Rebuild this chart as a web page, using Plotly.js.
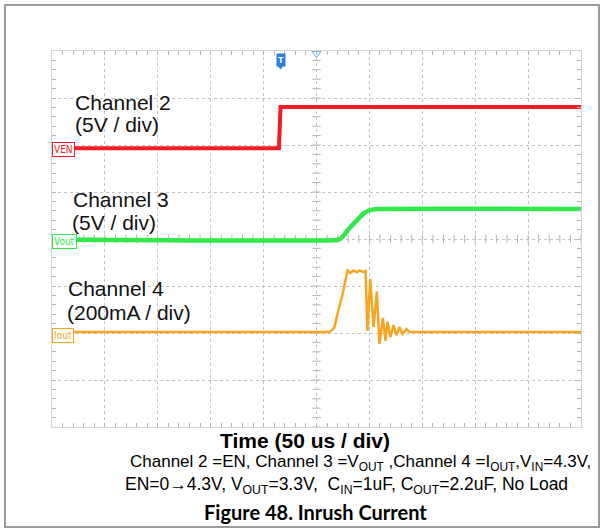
<!DOCTYPE html>
<html>
<head>
<meta charset="utf-8">
<script src="https://cdn.plot.ly/plotly-3.0.1.min.js"></script>
<style>
  html, body { margin: 0; padding: 0; background: #fff; }
  #chart { position: absolute; left: 0; top: 0; width: 603px; height: 532px; }
  #frame { position: absolute; left: 4px; top: 4px; width: 592px; height: 520px;
           border: 2px solid #9a9a9a; pointer-events: none; }
</style>
</head>
<body>
<div id="chart"></div>
<div id="frame"></div>
<script>
// ---- Data (time in microseconds, trigger at 0; 50 us/div) ----
// Channel 2: EN voltage (V), 5 V/div
const enTime = [-250, -35.5, -34, 250];
const enVolt = [0, 0, 4.4, 4.4];

// Channel 3: VOUT (V), 5 V/div
const voutTime = [-250, 19, 22, 26, 30, 34, 40, 45, 50, 54, 58, 250];
const voutVolt = [0.05, 0, 0.1, 0.5, 1.1, 1.6, 2.3, 2.85, 3.15, 3.25, 3.3, 3.3];

// Channel 4: IOUT (mA), 200 mA/div
const ioutTime = [-250, 12, 15, 17, 20, 24.6, 29.3, 32, 35, 38, 41, 44, 46.3, 47.3, 48.2,
                  50.8, 53.9, 57.0, 59.5, 62.7, 65.2, 67.1, 69.9, 72.8, 75.6, 78.4, 81.3, 85.1, 88, 250];
const ioutMA = [0, 0, 10, 21, 80, 160, 262, 252, 262, 254, 262, 255, 260, 150, 5,
                225, 22, 172, -51, 60, -37, 44, -21, 30, -13, 21, -8, 13, 0, 0];

// Channel labels
const chanNames = ["Channel 2", "Channel 3", "Channel 4"];
const chanScales = ["(5V / div)", "(5V / div)", "(200mA / div)"];
const markerNames = ["VEN", "Vout", "Iout"];
const chanColors = ["#ee1c24", "#2fe84a", "#f7a520"];

// Caption texts
const xTitle = "Time (50 us / div)";
const captionLine1 = "Channel 2 =EN, Channel 3 =V<sub>OUT</sub> ,Channel 4 =I<sub>OUT</sub>,V<sub>IN</sub>=4.3V,";
const captionLine2 = "EN=0\u21924.3V, V<sub>OUT</sub>=3.3V,  C<sub>IN</sub>=1uF, C<sub>OUT</sub>=2.2uF, No Load";
const figTitle = "Figure 48. Inrush Current";

// ---- Scope geometry ----
const XDIV = 50, NXDIV = 10, NYDIV = 8;
const xMin = -XDIV * NXDIV / 2, xMax = XDIV * NXDIV / 2;
// ground positions (in divisions from bottom) and scale per div
const gnd = [5.93, 3.98, 2.02];
const perDiv = [5, 5, 200];
function rng(i) { return [-gnd[i] * perDiv[i], (NYDIV - gnd[i]) * perDiv[i]]; }

// graticule centre-line ticks
const gx = [], gy = [];
for (let t = xMin; t <= xMax; t += XDIV / 5) { gx.push(t); }
for (let v = 0; v <= NYDIV + 1e-9; v += 0.2) { gy.push(v); }

const gridColor = "#c4c4c4";
const tickColor = "#b4b4b4";

const traces = [
  { x: gx, y: gx.map(() => NYDIV / 2), mode: "markers", xaxis: "x", yaxis: "y",
    marker: { symbol: "line-ns", size: 6, line: { color: tickColor, width: 1 } },
    hoverinfo: "skip", showlegend: false },
  { x: gy.map(() => 0), y: gy, mode: "markers", xaxis: "x", yaxis: "y",
    marker: { symbol: "line-ew", size: 6, line: { color: tickColor, width: 1 } },
    hoverinfo: "skip", showlegend: false },
  { x: [0], y: [NYDIV - 0.05], mode: "markers", xaxis: "x", yaxis: "y", cliponaxis: false,
    marker: { symbol: "triangle-down-open", size: 8, color: "#5aa8f0", line: { width: 1 } },
    hoverinfo: "skip", showlegend: false },
  { x: [-34], y: [7.69], mode: "markers", xaxis: "x", yaxis: "y", cliponaxis: false,
    marker: { symbol: "triangle-down", size: 8, color: "#2e7fd6" },
    hoverinfo: "skip", showlegend: false },
  { x: enTime, y: enVolt, mode: "lines", xaxis: "x", yaxis: "y2",
    line: { color: chanColors[0], width: 4 }, showlegend: false },
  { x: voutTime, y: voutVolt, mode: "lines", xaxis: "x", yaxis: "y3",
    line: { color: chanColors[1], width: 4.5, shape: "spline", smoothing: 0.6 }, showlegend: false },
  { x: ioutTime, y: ioutMA, mode: "lines", xaxis: "x", yaxis: "y4",
    line: { color: chanColors[2], width: 2.5 }, showlegend: false }
];

const baseFont = "Liberation Sans, Arial, sans-serif";
const annotations = [];
const labelPos = [
  { x1: -229.7, y1: 6.915, x2: -230.2, y2: 6.426 },
  { x1: -232.1, y1: 4.83, x2: -233.0, y2: 4.347 },
  { x1: -236.8, y1: 2.957, x2: -237.7, y2: 2.426 }
];
for (let i = 0; i < 3; i++) {
  annotations.push({ x: labelPos[i].x1, y: labelPos[i].y1, xref: "x", yref: "y", xanchor: "left", yanchor: "middle",
    text: chanNames[i], showarrow: false, font: { family: baseFont, size: 21, color: "#111" } });
  annotations.push({ x: labelPos[i].x2, y: labelPos[i].y2, xref: "x", yref: "y", xanchor: "left", yanchor: "middle",
    text: chanScales[i], showarrow: false, font: { family: baseFont, size: 21, color: "#111" } });
  annotations.push({ x: xMin, y: 0, xref: "x", yref: "y" + (i + 2), xanchor: "left", yanchor: "middle",
    yshift: i === 0 ? -1 : (i === 1 ? -2 : -3),
    text: markerNames[i], showarrow: false, bgcolor: "#fff", bordercolor: chanColors[i], borderwidth: 1, borderpad: 1,
    font: { family: "Liberation Sans Narrow, DejaVu Sans Condensed, sans-serif", size: 10, color: chanColors[i] } });
}
annotations.push({ x: -34, y: 7.81, xref: "x", yref: "y", xanchor: "center", yanchor: "middle",
  text: "<b>T</b>", showarrow: false, bgcolor: "#2e7fd6", borderpad: 1,
  font: { family: baseFont, size: 9, color: "#fff" } });

// bottom texts (paper coords: plot area height 376 px, bottom at 0)
annotations.push({ x: 0.479, y: -0.037, xref: "paper", yref: "paper", xanchor: "center", yanchor: "middle",
  text: "<b>" + xTitle + "</b>", showarrow: false, font: { family: baseFont, size: 21, color: "#000" } });
annotations.push({ x: 0.144, y: -0.095, xref: "paper", yref: "paper", xanchor: "left", yanchor: "middle",
  text: captionLine1, showarrow: false, font: { family: baseFont, size: 17, color: "#000" } });
annotations.push({ x: 0.134, y: -0.156, xref: "paper", yref: "paper", xanchor: "left", yanchor: "middle",
  text: captionLine2, showarrow: false, font: { family: baseFont, size: 17.5, color: "#000" } });
annotations.push({ x: 0.499, y: -0.225, xref: "paper", yref: "paper", xanchor: "center", yanchor: "middle",
  text: "<b>" + figTitle + "</b>", showarrow: false, font: { family: "Lato, Open Sans, sans-serif", size: 20, color: "#000" } });

const hidden = { visible: false, showgrid: false, zeroline: false, fixedrange: true };
const layout = {
  width: 603, height: 532,
  margin: { l: 52, r: 22, t: 51, b: 105 },
  paper_bgcolor: "#fff", plot_bgcolor: "#fff",
  showlegend: false,
  xaxis: {
    range: [xMin, xMax], tick0: 0, dtick: XDIV, showticklabels: false,
    showgrid: true, gridcolor: gridColor, griddash: "dot", gridwidth: 1, zeroline: false,
    ticks: "inside", ticklen: 4, tickcolor: tickColor, showline: true, linecolor: "#d4d4d4", mirror: "allticks",
    minor: { dtick: XDIV / 5, tick0: 0, ticks: "inside", ticklen: 4, tickcolor: tickColor, showgrid: false }
  },
  yaxis: {
    range: [0, NYDIV], tick0: 0, dtick: 1, showticklabels: false,
    showgrid: true, gridcolor: gridColor, griddash: "dot", gridwidth: 1, zeroline: false,
    ticks: "inside", ticklen: 4, tickcolor: tickColor, showline: true, linecolor: "#d4d4d4", mirror: "allticks",
    minor: { dtick: 0.2, tick0: 0, ticks: "inside", ticklen: 4, tickcolor: tickColor, showgrid: false }
  },
  yaxis2: Object.assign({ overlaying: "y", range: rng(0) }, hidden),
  yaxis3: Object.assign({ overlaying: "y", range: rng(1) }, hidden),
  yaxis4: Object.assign({ overlaying: "y", range: rng(2) }, hidden),
  annotations: annotations
};

Plotly.newPlot("chart", traces, layout, { displayModeBar: false, staticPlot: true });
</script>
</body>
</html>
